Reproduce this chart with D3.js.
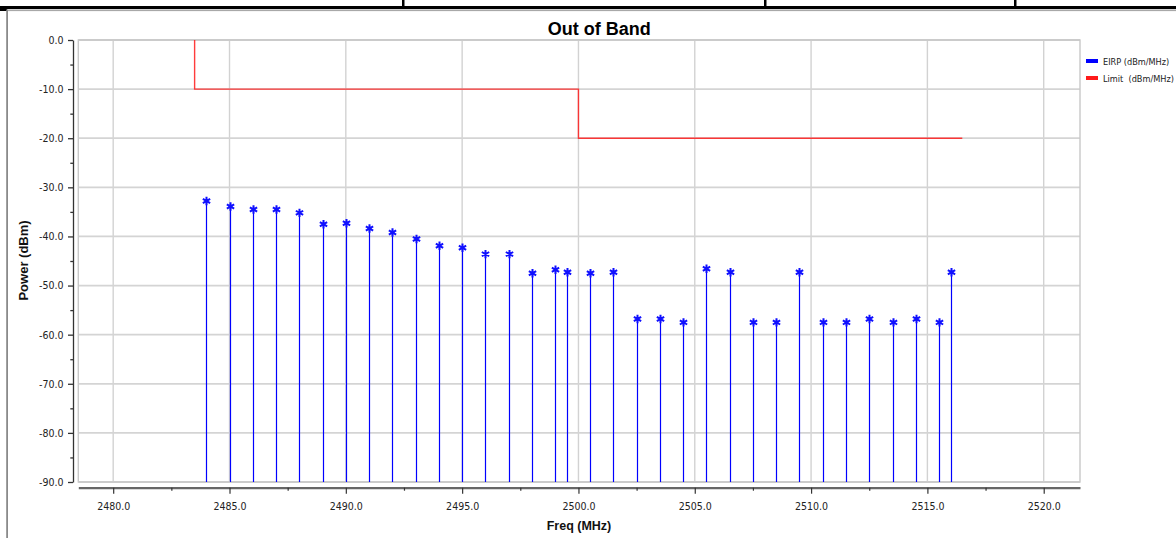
<!DOCTYPE html>
<html><head><meta charset="utf-8">
<script src="https://cdn.jsdelivr.net/npm/d3@7"></script>
<style>
html,body{margin:0;padding:0;background:#fff;overflow:hidden}
svg{display:block}
.tick text{font-family:"DejaVu Sans Condensed","DejaVu Sans",sans-serif;font-size:10.5px;fill:#222}
</style></head>
<body>
<svg id="chart" width="1176" height="538"></svg>
<script>
// ---- data ----
const freqs = [2484,2485,2486,2487,2488,2489,2490,2491,2492,2493,2494,2495,2496,2497,2498,2499,2499.5,
  2500.5,2501.5,2502.5,2503.5,2504.5,2505.5,2506.5,2507.5,2508.5,2509.5,2510.5,2511.5,2512.5,2513.5,2514.5,2515.5,2516.0];
const eirp = [-32.8,-33.9,-34.5,-34.5,-35.2,-37.5,-37.3,-38.4,-39.2,-40.5,-41.9,-42.3,-43.6,-43.6,-47.5,-46.8,-47.3,
  -47.5,-47.3,-56.8,-56.8,-57.5,-46.6,-47.3,-57.5,-57.5,-47.3,-57.5,-57.5,-56.8,-57.5,-56.8,-57.5,-47.3];
const limitFreqs = [2483.5,2483.5,2500,2500,2516.5];
const limitVals = [0,-10,-10,-20,-20];
const xTicks = [2480,2485,2490,2495,2500,2505,2510,2515,2520];
const xMinorTicks = [2482.5,2487.5,2492.5,2497.5,2502.5,2507.5,2512.5,2517.5];
const yTicks = [0,-10,-20,-30,-40,-50,-60,-70,-80,-90];
const yMinorTicks = [-5,-15,-25,-35,-45,-55,-65,-75,-85];
const legendLabels = ["EIRP (dBm/MHz)","Limit  (dBm/MHz)"];
const legendColors = ["#0000ff","#ff1a1a"];
const title = "Out of Band";
const xTitle = "Freq (MHz)";
const yTitle = "Power (dBm)";

// ---- layout ----
const svg = d3.select("#chart");
const L = 78.3, R = 1080, T = 40, B = 482;
const x = d3.scaleLinear().domain([2478.5, 2521.56]).range([L, R]);
const y = d3.scaleLinear().domain([-90, 0]).range([B, T]);
const fmt = d => d.toFixed(1);

// page frame (table borders)
svg.append("rect").attr("x",0).attr("y",6).attr("width",1176).attr("height",3).attr("fill","#000");
svg.append("rect").attr("x",0).attr("y",9).attr("width",7).attr("height",2).attr("fill","#000");
[403,765,1015].forEach(px => svg.append("rect").attr("x",px-1).attr("y",0).attr("width",2.5).attr("height",8).attr("fill","#000"));
svg.append("rect").attr("x",7).attr("y",9.5).attr("width",1169).attr("height",1.6).attr("fill","#a8a8a8");
svg.append("rect").attr("x",6.2).attr("y",9.5).attr("width",1.8).attr("height",530).attr("fill","#8a8a8a");

// grid
const grid = svg.append("g");
grid.selectAll("line.v").data(xTicks).join("line")
  .attr("x1",d=>x(d)).attr("x2",d=>x(d)).attr("y1",T).attr("y2",B)
  .attr("stroke","#d2d2d2").attr("stroke-width",1.4);
grid.selectAll("line.h").data(yTicks).join("line")
  .attr("x1",L).attr("x2",R).attr("y1",d=>y(d)).attr("y2",d=>y(d))
  .attr("stroke","#d4d4d4").attr("stroke-width",1.8);
svg.append("rect").attr("x",L).attr("y",T).attr("width",R-L).attr("height",B-T)
  .attr("fill","none").attr("stroke","#c8c8c8").attr("stroke-width",1.4);

// y axis
const yAxisG = svg.append("g").attr("transform","translate(73,0)")
  .call(d3.axisLeft(y).tickValues(yTicks).tickFormat(fmt).tickSize(5).tickSizeOuter(0).tickPadding(4.5));
svg.append("g").attr("transform","translate(73,0)")
  .call(d3.axisLeft(y).tickValues(yMinorTicks).tickFormat("").tickSize(2.7).tickSizeOuter(0))
  .select(".domain").remove();
svg.selectAll("g").filter(function(){return this.getAttribute("transform")==="translate(73,0)";})
  .selectAll("line,path").attr("stroke","#333").attr("stroke-width",1.3);

// x axis
const xAxisG = svg.append("g").attr("transform","translate(0,487.7)")
  .call(d3.axisBottom(x).tickValues(xTicks).tickFormat(fmt).tickSize(6).tickSizeOuter(0).tickPadding(8.5));
xAxisG.select(".domain").attr("stroke","#666").attr("stroke-width",2.2);
xAxisG.selectAll(".tick line").attr("stroke","#333").attr("stroke-width",1.2);
const xMinorG = svg.append("g").attr("transform","translate(0,487.7)")
  .call(d3.axisBottom(x).tickValues(xMinorTicks).tickFormat("").tickSize(3).tickSizeOuter(0));
xMinorG.select(".domain").remove();
xMinorG.selectAll(".tick line").attr("stroke","#333").attr("stroke-width",1.2);

// limit line
const limitData = limitFreqs.map((f,i)=>[f,limitVals[i]]);
svg.append("path").datum(limitData)
  .attr("d", d3.line().x(d=>x(d[0])).y(d=>y(d[1])))
  .attr("fill","none").attr("stroke",legendColors[1]).attr("stroke-width",1.4).attr("opacity",0.85);

// stems
const eirpData = freqs.map((f,i)=>({f, v:eirp[i]}));
svg.append("g").selectAll("line").data(eirpData).join("line")
  .attr("x1",d=>Math.round(x(d.f))+0.5).attr("x2",d=>Math.round(x(d.f))+0.5)
  .attr("y1",y(-90)).attr("y2",d=>y(d.v))
  .attr("stroke","#0000ff").attr("stroke-width",1.2);
// markers
svg.append("g").selectAll("path").data(eirpData).join("path")
  .attr("transform",d=>`translate(${Math.round(x(d.f))+0.5},${y(d.v)})`)
  .attr("d", d3.symbol().type(d3.symbolAsterisk).size(50))
  .attr("fill","none").attr("stroke","#1010ff").attr("stroke-width",2);

// title
svg.append("text").attr("x",599.2).attr("y",35).attr("text-anchor","middle")
  .attr("font-family","Liberation Sans, Arial, sans-serif").attr("font-weight","bold")
  .attr("font-size",18).attr("fill","#000").text(title);
// axis titles
svg.append("text").attr("x",579).attr("y",529.5).attr("text-anchor","middle")
  .attr("font-family","Liberation Sans, Arial, sans-serif").attr("font-weight","bold")
  .attr("font-size",12.5).attr("fill","#111").text(xTitle);
svg.append("text").attr("transform","translate(27.5,260.5) rotate(-90)").attr("text-anchor","middle")
  .attr("font-family","Liberation Sans, Arial, sans-serif").attr("font-weight","bold")
  .attr("font-size",13).attr("fill","#111").text(yTitle);

// legend
const lg = svg.append("g");
legendLabels.forEach((lab,i)=>{
  lg.append("rect").attr("x",1086).attr("y",59+i*17).attr("width",12).attr("height",4).attr("fill",legendColors[i]);
  lg.append("text").attr("x",1103).attr("y",65.3+i*17)
    .attr("font-family","DejaVu Sans Condensed, DejaVu Sans, sans-serif").attr("font-size",9.1)
    .attr("fill","#222").attr("xml:space","preserve").style("white-space","pre").text(lab);
});
</script>
</body></html>
